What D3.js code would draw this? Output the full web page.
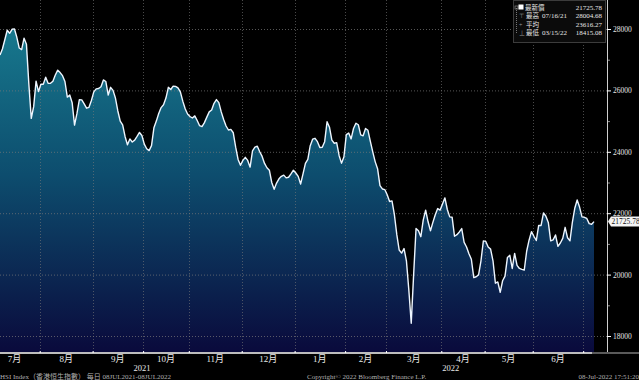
<!DOCTYPE html>
<html>
<head>
<meta charset="utf-8">
<script src="https://cdn.jsdelivr.net/npm/d3@7"></script>
<style>
html,body{margin:0;padding:0;background:#000;}
svg{display:block;}
text{font-family:"Liberation Serif","Noto Sans CJK TC",serif;}
</style>
</head>
<body>
<svg width="639" height="380"></svg>
<script>
// month labels and number of trading days in each (Jul 2021 starts on the 8th)
var months = ["7月","8月","9月","10月","11月","12月","1月","2月","3月","4月","5月","6月","7月"];
var monthDays = [17,22,21,19,22,22,21,17,23,18,20,21,5];
var years = ["2021","2022"];
var yearMonths = [6,7]; // months of each year on the chart

// HSI daily close, 08JUL2021 - 08JUL2022
var closes = [
27150,27350,27650,27960,27860,27990,28004.68,27730,27380,27330,27700,27500,26200,25090,25470,26300,25960,
26200,26200,26430,26230,26230,26300,26500,26660,26580,26480,26290,25780,25850,25600,24870,25250,25700,25690,25560,25420,25450,25670,
25950,26050,26060,26120,26340,26290,25850,26100,26000,25750,25330,25000,24880,24500,24230,24420,24320,24380,24500,24630,24530,
24250,24100,24040,24200,24780,25000,25250,25440,25530,25750,26100,26030,26140,26130,26080,25950,25650,25400,25230,
25150,25100,25170,25020,24850,24820,24950,25130,25300,25360,25580,25700,25600,25300,25050,24840,24710,24730,24620,24150,23750,23560,
23720,23820,23720,23500,24030,24150,24180,24000,23850,23620,23480,23400,23000,22780,22980,23120,23200,23240,23150,23170,23280,23400,
23310,23200,22950,23280,23620,23750,24200,24410,24440,24330,24140,24150,24330,24980,24800,24380,24280,24300,23880,23630,23830,
24560,24610,24420,24760,24930,24880,24550,24520,24760,24700,24340,24000,23680,23450,22900,22790,22770,
22600,22380,22400,21950,21300,20800,20700,20850,20450,19500,18415.08,20000,21500,21430,21235,21780,22100,21720,21430,21700,21950,22150,22100,
22300,22500,22120,21880,21870,21250,21300,21390,21500,21050,20900,20680,20500,19900,19930,19990,20450,21100,
21080,20900,20830,20450,19720,19760,19420,19800,19950,20560,20630,20200,20690,20300,20200,20170,20150,20760,21120,21400,
21250,21110,21600,21600,22010,21900,21700,21100,21130,21290,20920,21030,21180,21540,21200,21100,21700,22160,22430,22200,21880,
21866,21830,21660,21640,21725.78
];

var yTicks = [18000,20000,22000,24000,26000,28000];
var yMinor = [19000,21000,23000,25000,27000];

var legendNames = ["最新價","最高","平均","最低"];
var legendDates = ["","07/16/21","","03/15/22"];
var legendValues = ["21725.78","28004.68","23616.27","18415.08"];
var lastValue = 21725.78;

var footerLeft = "HSI Index（香港恒生指數） 每日 08JUL2021-08JUL2022";
var footerMid = "Copyright© 2022 Bloomberg Finance L.P.";
var footerRight = "08-Jul-2022 17:51:20";

function main()
{
var svg = d3.select("svg"),
    plotRight = 607,
    plotBottom = 352;

svg.append("rect").attr("width",639).attr("height",380).attr("fill","#000");

var x = d3.scaleLinear().domain([0, closes.length-1]).range([0, 594]);
var y = d3.scaleLinear().domain([18000, 28000]).range([336, 29]);

// month boundaries in trading-day index
var starts = [], acc = 0;
monthDays.forEach(function(d){ starts.push(acc); acc += d; });

var defs = svg.append("defs");
var grad = defs.append("linearGradient")
  .attr("id","fillGrad")
  .attr("gradientUnits","userSpaceOnUse")
  .attr("x1",0).attr("x2",0).attr("y1",y(28000)).attr("y2",plotBottom);
grad.append("stop").attr("offset","0").attr("stop-color","#17788d");
grad.append("stop").attr("offset","0.45").attr("stop-color","#0d4d6e");
grad.append("stop").attr("offset","1").attr("stop-color","#0a0a3c");

var area = d3.area()
  .x(function(d,i){ return x(i); })
  .y0(plotBottom)
  .y1(function(d){ return y(d); });

svg.append("path")
  .datum(closes)
  .attr("d", area)
  .attr("fill","url(#fillGrad)");

// grid
var grid = svg.append("g");
grid.selectAll(".hg")
  .data(yTicks)
  .enter().append("line")
  .attr("x1",0).attr("x2",plotRight)
  .attr("y1",function(d){ return y(d)+0.5; })
  .attr("y2",function(d){ return y(d)+0.5; })
  .attr("stroke","#7a7a7a")
  .attr("stroke-opacity",0.7)
  .attr("stroke-dasharray","1,2");

grid.selectAll(".vg")
  .data(starts.slice(1))
  .enter().append("line")
  .attr("x1",function(d){ return Math.round(x(d-0.5))+0.5; })
  .attr("x2",function(d){ return Math.round(x(d-0.5))+0.5; })
  .attr("y1",0).attr("y2",plotBottom)
  .attr("stroke","#7a7a7a")
  .attr("stroke-opacity",0.6)
  .attr("stroke-dasharray","1,2");

var line = d3.line()
  .x(function(d,i){ return x(i); })
  .y(function(d){ return y(d); });

svg.append("path")
  .datum(closes)
  .attr("d", line)
  .attr("fill","none")
  .attr("stroke","#eef6ff")
  .attr("stroke-width",1.4)
  .attr("stroke-linejoin","round");

// right axis
svg.append("line")
  .attr("x1",plotRight+0.5).attr("x2",plotRight+0.5)
  .attr("y1",0).attr("y2",plotBottom+2)
  .attr("stroke","#cfcfcf");

var yAxis = svg.append("g")
  .attr("transform","translate("+plotRight+",0)")
  .call(d3.axisRight(y).tickValues(yTicks).tickSize(4).tickPadding(2)
    .tickFormat(d3.format("d")));
yAxis.select(".domain").remove();
yAxis.selectAll("line").attr("stroke","#ffffff");
yAxis.selectAll("text")
  .attr("fill","#e6e6e6")
  .attr("font-size","7.5px")
  .style("font-family","'Liberation Serif',serif");

svg.append("g").selectAll("rect")
  .data(yMinor)
  .enter().append("rect")
  .attr("x",plotRight+1).attr("width",2)
  .attr("y",function(d){ return y(d); }).attr("height",1)
  .attr("fill","#8a8a8a");

// bottom axis bar
svg.append("rect")
  .attr("x",0).attr("y",plotBottom).attr("width",592).attr("height",2)
  .attr("fill","#bdbdbd");
svg.append("rect")
  .attr("x",592).attr("y",plotBottom).attr("width",47).attr("height",2)
  .attr("fill","#5a5a5a");

var xAxis = svg.append("g")
  .attr("transform","translate(0,"+plotBottom+")")
  .call(d3.axisBottom(x).tickValues(starts.slice(1).map(function(d){ return d-0.5; }))
    .tickSize(2).tickFormat(""));
xAxis.select(".domain").remove();
xAxis.selectAll("line").attr("stroke","#ffffff").attr("transform","translate(0,-1)");

// month labels, centred on each month (first month measured as a full month)
var avgMonth = 21;
svg.append("g").selectAll("text")
  .data(months.slice(0, months.length-1))
  .enter().append("text")
  .attr("x",function(d,i){
    var e = starts[i] + monthDays[i] - 0.5;
    var s = (i === 0) ? e - avgMonth : starts[i] - 0.5;
    return x((s+e)/2);
  })
  .attr("y",362)
  .attr("text-anchor","middle")
  .attr("fill","#e8e8e8")
  .attr("font-size","9px")
  .text(function(d){ return d; });

// year labels
svg.append("g").selectAll("text")
  .data(years)
  .enter().append("text")
  .attr("x",function(d,i){
    if (i === 0) {
      var e = starts[yearMonths[0]] - 0.5;
      return (x(starts[1] - 0.5 - avgMonth) + x(e)) / 2;
    }
    return (x(starts[yearMonths[0]] - 0.5) + plotRight) / 2;
  })
  .attr("y",371)
  .attr("text-anchor","middle")
  .attr("fill","#e8e8e8")
  .attr("font-size","8.5px")
  .text(function(d){ return d; });

// footer
svg.append("text").attr("x",0).attr("y",379).attr("fill","#b0b0b0")
  .attr("font-size","7px").text(footerLeft);
svg.append("text").attr("x",307).attr("y",379).attr("fill","#b0b0b0")
  .attr("font-size","7px").text(footerMid);
svg.append("text").attr("x",639).attr("y",379).attr("text-anchor","end").attr("fill","#b0b0b0")
  .attr("font-size","7px").text(footerRight);

// last value tag
var ly = y(lastValue);
svg.append("path")
  .attr("d","M608,"+ly+" L611,"+(ly-5)+" L639,"+(ly-5)+" L639,"+(ly+5)+" L611,"+(ly+5)+" Z")
  .attr("fill","#f4f4f4");
svg.append("text").attr("x",611.5).attr("y",ly+2.7)
  .attr("fill","#111").attr("font-size","7.5px")
  .text(d3.format(".2f")(lastValue));

// legend box
var lg = svg.append("g");
lg.append("rect")
  .attr("x",513.5).attr("y",0.5).attr("width",92).attr("height",42)
  .attr("fill","#0b0b0b").attr("stroke","#3c3c3c");
lg.append("line")
  .attr("x1",516.5).attr("x2",516.5).attr("y1",8).attr("y2",34)
  .attr("stroke","#777").attr("stroke-dasharray","1,1");
lg.append("rect").attr("x",515).attr("y",6).attr("width",3).attr("height",3)
  .attr("fill","none").attr("stroke","#999").attr("stroke-width",0.6);
lg.append("rect").attr("x",518.5).attr("y",4.5).attr("width",5).attr("height",5)
  .attr("fill","#ffffff");
var symbols = ["","⊤","+","⊥"];
legendNames.forEach(function(n,i){
  var ty = 10 + i*8.4;
  if (symbols[i]) {
    lg.append("text").attr("x",519).attr("y",ty).attr("fill","#9a9a9a")
      .attr("font-size","6px").text(symbols[i]);
  }
  lg.append("text").attr("x",i === 0 ? 525 : 526).attr("y",ty).attr("fill","#e6e6e6")
    .attr("font-size","6.5px").text(n);
  if (legendDates[i]) {
    lg.append("text").attr("x",542).attr("y",ty).attr("fill","#e6e6e6")
      .attr("font-size","7px").text(legendDates[i]);
  }
  lg.append("text").attr("x",602).attr("y",ty).attr("text-anchor","end").attr("fill","#e6e6e6")
    .attr("font-size","7px").text(legendValues[i]);
});
}
main();
</script>
</body>
</html>
